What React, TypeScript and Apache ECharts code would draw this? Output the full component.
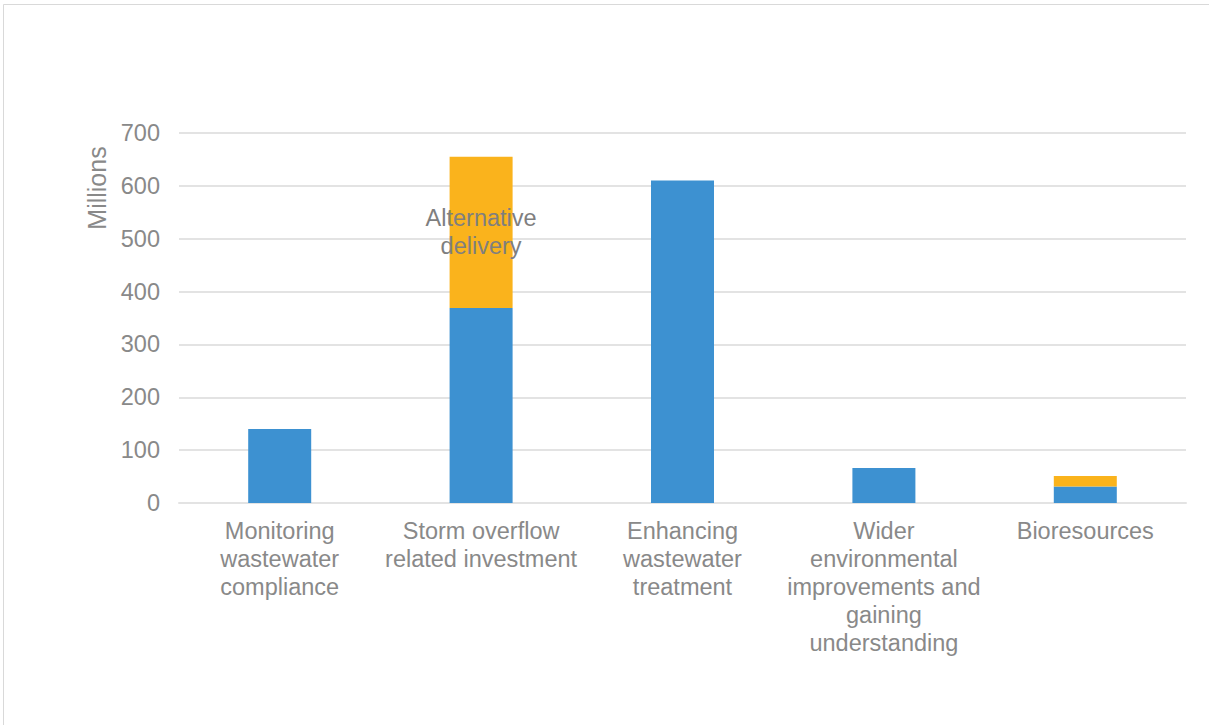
import React, { useEffect, useRef } from "react";
import * as echarts from "echarts";

const categories = [
  "Monitoring\nwastewater\ncompliance",
  "Storm overflow\nrelated investment",
  "Enhancing\nwastewater\ntreatment",
  "Wider\nenvironmental\nimprovements and\ngaining\nunderstanding",
  "Bioresources",
];
const baseValues = [140, 369, 610, 66, 31];
const alternativeValues = [0, 286, 0, 0, 20];
const alternativeLabelIndex = 1;
const yTicks = { min: 0, max: 700, interval: 100 };

const GRAY = "#898989";
const FONT = "Liberation Sans, Arial, sans-serif";

export default function App() {
  const ref = useRef<HTMLDivElement>(null);
  useEffect(() => {
    if (!ref.current) return;
    const chart = echarts.init(ref.current, null, { renderer: "svg" });
    chart.setOption({
      animation: false,
      backgroundColor: "#ffffff",
      textStyle: { fontFamily: FONT },
      grid: { left: 179, right: 23, top: 133, bottom: 222, containLabel: false },
      xAxis: {
        type: "category",
        data: categories,
        axisLine: { show: true, lineStyle: { color: "#e3e3e3", width: 2 } },
        axisTick: { show: false },
        axisLabel: {
          interval: 0,
          color: GRAY,
          fontSize: 23.5,
          lineHeight: 28,
          margin: 14,
          fontFamily: FONT,
          align: "center",
        },
      },
      yAxis: {
        type: "value",
        min: yTicks.min,
        max: yTicks.max,
        interval: yTicks.interval,
        axisLine: { show: false },
        axisTick: { show: false },
        splitLine: { lineStyle: { color: "#e3e3e3", width: 2 } },
        axisLabel: { color: GRAY, fontSize: 23.5, margin: 19, fontFamily: FONT },
      },
      series: [
        {
          type: "bar",
          stack: "total",
          data: baseValues,
          barWidth: 63,
          itemStyle: { color: "#3d91d1" },
        },
        {
          type: "bar",
          stack: "total",
          barWidth: 63,
          itemStyle: { color: "#fab31c" },
          data: alternativeValues.map((v, i) =>
            i === alternativeLabelIndex
              ? {
                  value: v,
                  label: {
                    show: true,
                    position: "inside",
                    formatter: "Alternative\ndelivery",
                    color: "#7f7f7f",
                    fontSize: 23.5,
                    lineHeight: 28,
                    fontFamily: FONT,
                  },
                }
              : v
          ),
        },
      ],
      graphic: [
        {
          type: "rect",
          shape: { x: 3.5, y: 4.5, width: 1240, height: 740 },
          style: { fill: "none", stroke: "#d9d9d9", lineWidth: 1 },
          silent: true,
        },
        {
          type: "text",
          x: 97,
          y: 188,
          rotation: Math.PI / 2,
          style: {
            text: "Millions",
            fill: GRAY,
            font: `25px ${FONT}`,
            textAlign: "center",
            textVerticalAlign: "middle",
          },
        },
      ],
    });
    return () => chart.dispose();
  }, []);
  return (
    <div
      ref={ref}
      style={{ position: "fixed", left: 0, top: 0, width: 1209, height: 725 }}
    />
  );
}
